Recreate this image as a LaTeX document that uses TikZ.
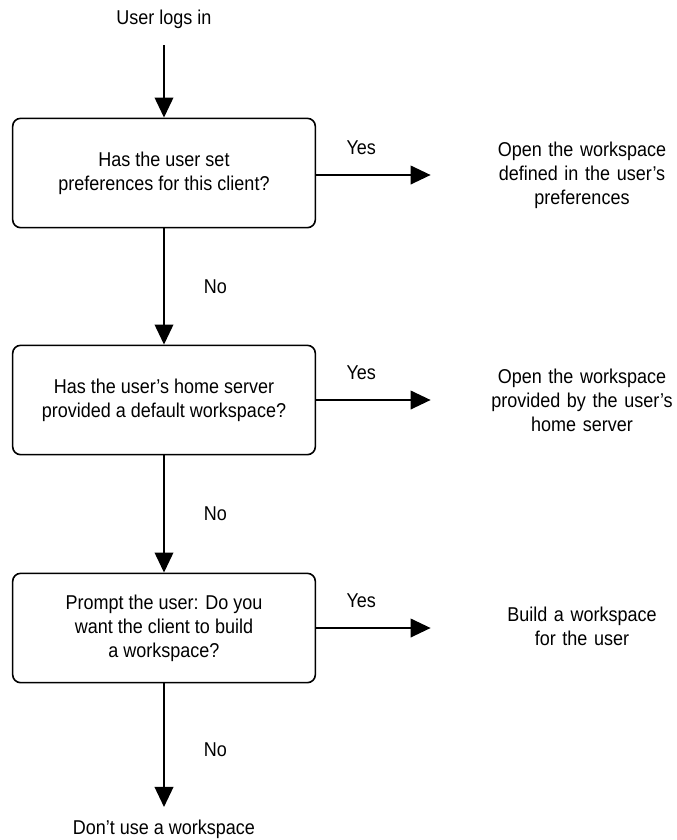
\documentclass[tikz,border=0pt]{standalone}
\usepackage{fontspec}
\setmainfont{Liberation Sans}[FakeStretch=0.9]
\usetikzlibrary{arrows.meta,positioning}
\tikzset{question/.style={draw, rounded corners=6pt, line width=1.2pt,
         minimum width=227pt, minimum height=82pt, align=center,
         font=\fontsize{15}{18}\selectfont},
         outcome/.style={align=center, text width=150pt,
         font=\fontsize{15}{18}\selectfont},
         answer/.style={font=\fontsize{15}{18}\selectfont},
         flow/.style={line width=1.2pt, -{Triangle[length=15pt,width=14pt]}}}

\begin{document}
\begin{tikzpicture}[x=0.75pt,y=-0.75pt]
  \useasboundingbox (0,0) rectangle (677,840);

  \node[answer] (login) at (164,19) {User logs in};
  \node[question] (prefs) at (164,173) {Has the user set\\preferences for this client?};
  \node[question] (home) at (164,400) {Has the user’s home server\\provided a default workspace?};
  \node[question] (prompt) at (164,628) {Prompt the user: Do you\\want the client to build\\a workspace?};
  \node[answer] (none) at (164,829) {Don’t use a workspace};

  \node[outcome] (openpref) at (582,175) {Open the workspace\\defined in the user’s\\preferences};
  \node[outcome] (openhome) at (582,400) {Open the workspace\\provided by the user’s\\home server};
  \node[outcome] (build) at (582,626) {Build a workspace\\for the user};

  % down the No branch
  \draw[flow, shorten <=9pt] (login) -- (prefs);
  \draw[flow] (prefs) -- node[answer, right=26pt] {No} (home);
  \draw[flow] (home) -- node[answer, right=26pt] {No} (prompt);
  \draw[flow, shorten >=6pt] (prompt) -- node[answer, right=26pt] {No} (none);

  % across to the Yes outcomes
  \draw[flow, shorten >=35pt] (prefs.east |- openpref) -- node[answer, above=11pt, pos=0.28] {Yes} (openpref);
  \draw[flow, shorten >=35pt] (home) -- node[answer, above=11pt, pos=0.28] {Yes} (openhome);
  \draw[flow, shorten >=35pt] (prompt.east) -- node[answer, above=11pt, pos=0.28] {Yes} (build.west |- prompt.east);
\end{tikzpicture}
\end{document}
